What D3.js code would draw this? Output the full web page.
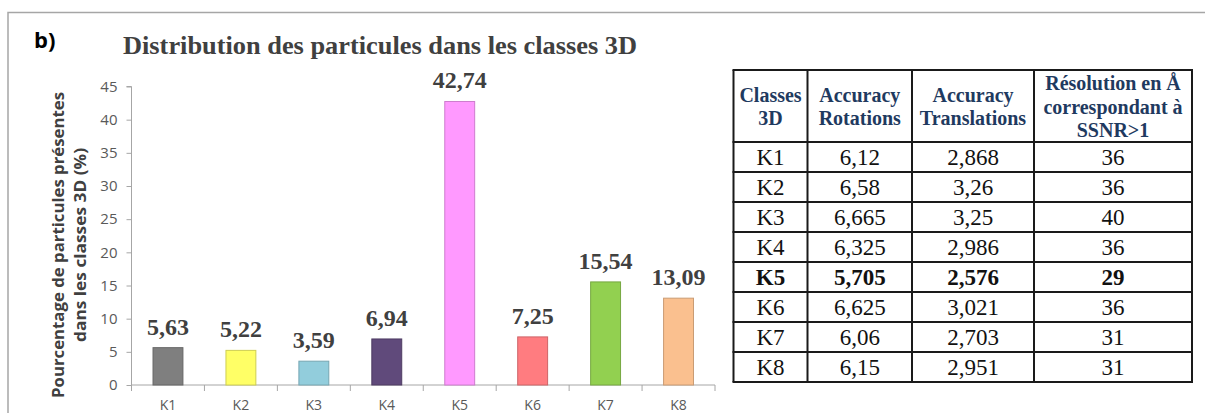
<!DOCTYPE html>
<html>
<head>
<meta charset="utf-8">
<script src="https://cdn.jsdelivr.net/npm/d3@7"></script>
<style>
  html, body { margin: 0; padding: 0; background: #fff; }
  svg { display: block; }
</style>
</head>
<body>
<svg id="fig" width="1205" height="413"></svg>
<script>
// ---- Data ----
const classes = ["K1", "K2", "K3", "K4", "K5", "K6", "K7", "K8"];
const percentages = [5.63, 5.22, 3.59, 6.94, 42.74, 7.25, 15.54, 13.09];
const barColors = ["#7f7f7f", "#ffff66", "#92cddc", "#604a7b", "#ff99ff", "#ff7c80", "#92d050", "#fac08f"];
const yTicks = [0, 5, 10, 15, 20, 25, 30, 35, 40, 45];

const tableHeaders = [
  ["Classes", "3D"],
  ["Accuracy", "Rotations"],
  ["Accuracy", "Translations"],
  ["Résolution en Å", "correspondant à", "SSNR>1"]
];
const accuracyRotations = ["6,12", "6,58", "6,665", "6,325", "5,705", "6,625", "6,06", "6,15"];
const accuracyTranslations = ["2,868", "3,26", "3,25", "2,986", "2,576", "3,021", "2,703", "2,951"];
const resolutions = ["36", "36", "40", "36", "29", "36", "31", "31"];
const highlighted = "K5";

const fmt = v => d3.format(".2f")(v).replace(".", ",");

const svg = d3.select("#fig");
const SERIF = "'Liberation Serif', 'Times New Roman', serif";
const SANS = "'Open Sans', 'Noto Sans', sans-serif";

// ---- Frame ----
svg.append("path")
  .attr("d", "M8,413 L8,12.5 L1205,12.5")
  .attr("fill", "none").attr("stroke", "#a6a6a6").attr("stroke-width", 1.5);

svg.append("text")
  .attr("x", 34).attr("y", 48)
  .attr("font-family", SANS).attr("font-weight", "bold").attr("font-size", 22)
  .attr("fill", "#000").text("b)");

svg.append("text")
  .attr("x", 123).attr("y", 54)
  .attr("font-family", SERIF).attr("font-weight", "bold").attr("font-size", 26)
  .attr("fill", "#404040")
  .attr("textLength", 514).attr("lengthAdjust", "spacingAndGlyphs")
  .text("Distribution des particules dans les classes 3D");

// ---- Bar chart ----
const x = d3.scaleBand().domain(classes).range([131.5, 715]).paddingInner(0.59).paddingOuter(0.295);
const y = d3.scaleLinear().domain([0, 45]).range([385, 86.5]);

const yAxis = d3.axisLeft(y).tickValues(yTicks).tickSize(5).tickPadding(9).tickFormat(d3.format("d"));
const gy = svg.append("g").attr("transform", "translate(131.5,0)").call(yAxis);
gy.attr("font-size", 15).attr("font-family", SANS);
gy.selectAll("path, line").attr("stroke", "#a6a6a6");
gy.selectAll("text").attr("font-family", SANS).attr("font-size", 15).attr("fill", "#595959");
gy.select(".domain").attr("d", `M-5,${y(45)}H0V${y(0)}`);

// x axis line with ticks at category boundaries
const gx = svg.append("g");
gx.append("line")
  .attr("x1", x.range()[0]).attr("x2", x.range()[1])
  .attr("y1", y(0)).attr("y2", y(0))
  .attr("stroke", "#a6a6a6");
gx.selectAll("line.tick")
  .data(d3.range(classes.length + 1))
  .join("line").attr("class", "tick")
  .attr("x1", i => x.range()[0] + i * x.step())
  .attr("x2", i => x.range()[0] + i * x.step())
  .attr("y1", y(0)).attr("y2", y(0) + 6)
  .attr("stroke", "#a6a6a6");
gx.selectAll("text")
  .data(classes)
  .join("text")
  .attr("x", d => x(d) + x.bandwidth() / 2)
  .attr("y", 410)
  .attr("text-anchor", "middle")
  .attr("font-family", SANS).attr("font-size", 14).attr("fill", "#595959")
  .text(d => d);

const bars = classes.map((c, i) => ({ c, v: percentages[i], color: barColors[i] }));

svg.append("g").selectAll("rect")
  .data(bars)
  .join("rect")
  .attr("x", d => x(d.c))
  .attr("y", d => y(d.v))
  .attr("width", x.bandwidth())
  .attr("height", d => y(0) - y(d.v))
  .attr("fill", d => d.color)
  .attr("stroke", d => d3.color(d.color).darker(0.6))
  .attr("stroke-width", 1);

svg.append("g").selectAll("text")
  .data(bars)
  .join("text")
  .attr("x", d => x(d.c) + x.bandwidth() / 2)
  .attr("y", d => y(d.v) - 13)
  .attr("text-anchor", "middle")
  .attr("font-family", SERIF).attr("font-weight", "bold").attr("font-size", 24)
  .attr("fill", "#404040")
  .text(d => fmt(d.v));

// y axis title (two lines)
const yTitle = [
  { t: "Pourcentage de particules présentes", x: 63.5, len: 306 },
  { t: "dans les classes 3D (%)", x: 86, len: 194 }
];
svg.append("g").selectAll("text")
  .data(yTitle)
  .join("text")
  .attr("transform", d => `translate(${d.x},245) rotate(-90)`)
  .attr("text-anchor", "middle")
  .attr("font-family", SANS).attr("font-weight", "bold").attr("font-size", 16.5)
  .attr("fill", "#404040")
  .attr("textLength", d => d.len).attr("lengthAdjust", "spacingAndGlyphs")
  .text(d => d.t);

// ---- Table ----
const colEdges = [733.5, 807.5, 912, 1034, 1192];
const headerTop = 70, headerBottom = 142, rowH = 30;
const rowEdges = [headerTop, headerBottom].concat(classes.map((c, i) => headerBottom + (i + 1) * rowH));
const tableBottom = rowEdges[rowEdges.length - 1];

const tbl = svg.append("g");
tbl.selectAll("line.h")
  .data(rowEdges)
  .join("line").attr("class", "h")
  .attr("x1", colEdges[0] - 1).attr("x2", colEdges[colEdges.length - 1] + 1)
  .attr("y1", d => d).attr("y2", d => d)
  .attr("stroke", "#1a1a1a").attr("stroke-width", 2);
tbl.selectAll("line.v")
  .data(colEdges)
  .join("line").attr("class", "v")
  .attr("x1", d => d).attr("x2", d => d)
  .attr("y1", headerTop).attr("y2", tableBottom)
  .attr("stroke", "#1a1a1a").attr("stroke-width", 2);

const colCenter = i => (colEdges[i] + colEdges[i + 1]) / 2;
const headerMid = 113.5, headerLine = 23.5;

tableHeaders.forEach((lines, ci) => {
  const start = headerMid - (lines.length - 1) * headerLine / 2;
  lines.forEach((line, li) => {
    tbl.append("text")
      .attr("x", colCenter(ci))
      .attr("y", start + li * headerLine)
      .attr("text-anchor", "middle")
      .attr("font-family", SERIF).attr("font-weight", "bold").attr("font-size", 20)
      .attr("fill", "#1f3a60")
      .text(line);
  });
});

const rows = classes.map((c, i) => [c, accuracyRotations[i], accuracyTranslations[i], resolutions[i]]);
rows.forEach((cells, ri) => {
  const top = headerBottom + ri * rowH;
  const bold = cells[0] === highlighted;
  cells.forEach((cell, ci) => {
    tbl.append("text")
      .attr("x", colCenter(ci))
      .attr("y", top + 23)
      .attr("text-anchor", "middle")
      .attr("font-family", SERIF).attr("font-size", 23)
      .attr("font-weight", bold ? "bold" : "normal")
      .attr("fill", "#111")
      .text(cell);
  });
});
</script>
</body>
</html>
